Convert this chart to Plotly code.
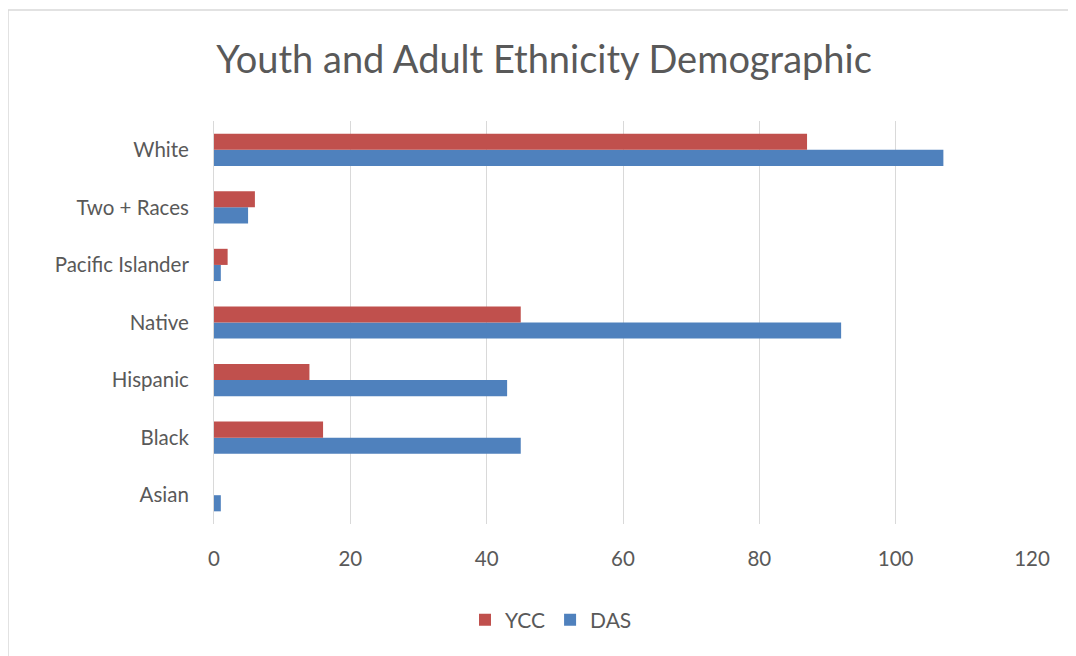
import plotly.graph_objects as go

categories = ["Asian", "Black", "Hispanic", "Native", "Pacific Islander", "Two + Races", "White"]
ycc = [0, 16, 14, 45, 2, 6, 87]
das = [1, 45, 43, 92, 1, 5, 107]
x_ticks = [0, 20, 40, 60, 80, 100, 120]

RED = "#C0504D"
BLUE = "#4F81BD"
GRAY = "#595959"
FONT = "Lato"

W, H = 1068, 648
L, R, T, B = 206, 44, 113, 132
PW, PH = W - L - R, H - T - B

fig = go.Figure()
fig.add_trace(go.Bar(y=categories, x=das, name="DAS", orientation="h",
                     marker=dict(color=BLUE, line=dict(width=0)), legendrank=2))
fig.add_trace(go.Bar(y=categories, x=ycc, name="YCC", orientation="h",
                     marker=dict(color=RED, line=dict(width=0)), legendrank=1))

fig.update_layout(
    width=W, height=H,
    margin=dict(l=L, r=R, t=T, b=B),
    paper_bgcolor="white", plot_bgcolor="white",
    barmode="group", bargap=0.44, bargroupgap=0,
    title=dict(text="Youth and Adult Ethnicity Demographic",
               x=(544 - 8) / W, xref="container", xanchor="center",
               y=1 - (60 - 8) / H, yref="container", yanchor="middle",
               font=dict(family=FONT, size=38, color=GRAY)),
    xaxis=dict(range=[0, 120], tickvals=x_ticks, showgrid=True,
               gridcolor="#D9D9D9", gridwidth=1, zeroline=False,
               showline=False, ticks="", ticklabelstandoff=20,
               tickfont=dict(family=FONT, size=20.5, color=GRAY)),
    yaxis=dict(showgrid=False, zeroline=False, showline=True,
               linecolor="#D9D9D9", linewidth=1, ticks="",
               ticklabelstandoff=20,
               tickfont=dict(family=FONT, size=20.5, color=GRAY)),
    legend=dict(orientation="h", xref="container", yref="container",
                x=(551 - 8) / W, xanchor="center", y=1 - (620 - 8) / H, yanchor="middle",
                font=dict(family=FONT, size=21, color=GRAY),
                itemwidth=30, traceorder="normal"),
    showlegend=True,
)

fig.add_shape(type="rect", xref="paper", yref="paper",
              x0=(0 - L) / PW, x1=1.2, y0=-0.6, y1=1 + (T - 2) / PH,
              line=dict(color="#D9D9D9", width=1.5), fillcolor="rgba(0,0,0,0)",
              layer="below")

fig.write_html("out.html")
